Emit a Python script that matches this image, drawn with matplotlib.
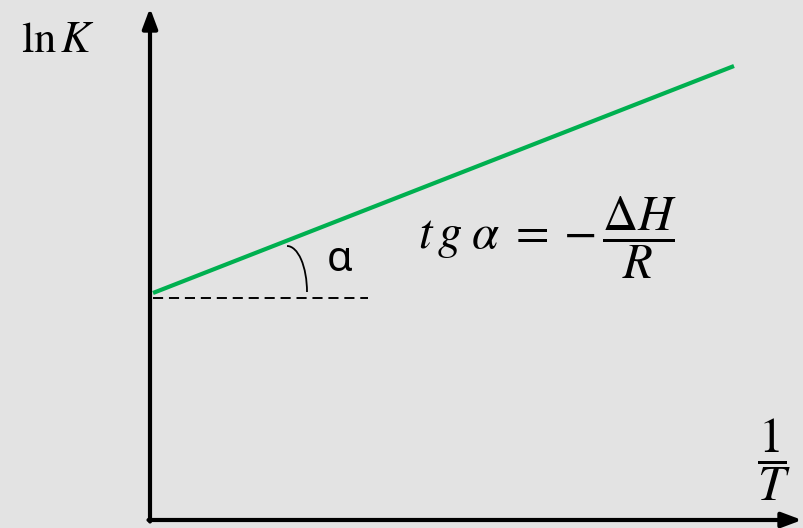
#!/usr/bin/env python3

import matplotlib.pyplot as plt
from matplotlib.patches import Arc

plt.rcParams['mathtext.fontset'] = 'stix'

# ln K against 1/T, straight line with slope -dH/R
inv_T = [0.03, 5.84]
ln_K = [2.27, 4.54]

# horizontal reference drawn from the intercept
ref_x = [0.03, 2.18]
ref_y = [2.22, 2.22]

GREEN = '#00b050'
BG = '#e3e3e3'


def main():
    fig = plt.figure(figsize=(8.04, 5.28), dpi=100, facecolor=BG)
    ax = fig.add_axes([0, 0, 1, 1])
    ax.set_facecolor(BG)
    ax.set_xlim(-1.50, 6.54)
    ax.set_ylim(-0.08, 5.20)
    ax.axis('off')

    # axes with arrow heads
    arrow = dict(arrowstyle='-|>,head_length=1.2,head_width=0.45',
                 lw=3.0, color='black', shrinkA=0, shrinkB=0)
    ax.annotate('', xy=(0, 5.12), xytext=(0, -0.015), arrowprops=arrow)
    ax.annotate('', xy=(6.52, 0), xytext=(-0.015, 0), arrowprops=arrow)

    ax.plot(inv_T, ln_K, color=GREEN, lw=3.0, solid_capstyle='butt')
    ax.plot(ref_x, ref_y, color='black', lw=1.4, dashes=(5.2, 3.0))

    # angle mark
    ax.add_patch(Arc((1.37, 2.28), 0.40, 0.92, theta1=0, theta2=90,
                     color='black', lw=1.3))
    ax.text(1.90, 2.60, 'α', fontsize=30, family='Noto Sans',
            ha='center', va='center')

    ax.text(2.68, 2.82, r'$t\,g\;\alpha\;=\:-\,\dfrac{\Delta H}{R}$',
            fontsize=35, ha='left', va='center')

    ax.text(-0.92, 5.02, r'$\mathrm{ln}\,K$', fontsize=32,
            ha='center', va='top')
    ax.text(6.24, 0.60, r'$\dfrac{1}{T}$', fontsize=36,
            ha='center', va='center')

    fig.savefig('out.png', dpi=100, facecolor=BG)


if __name__ == "__main__":
    main()
